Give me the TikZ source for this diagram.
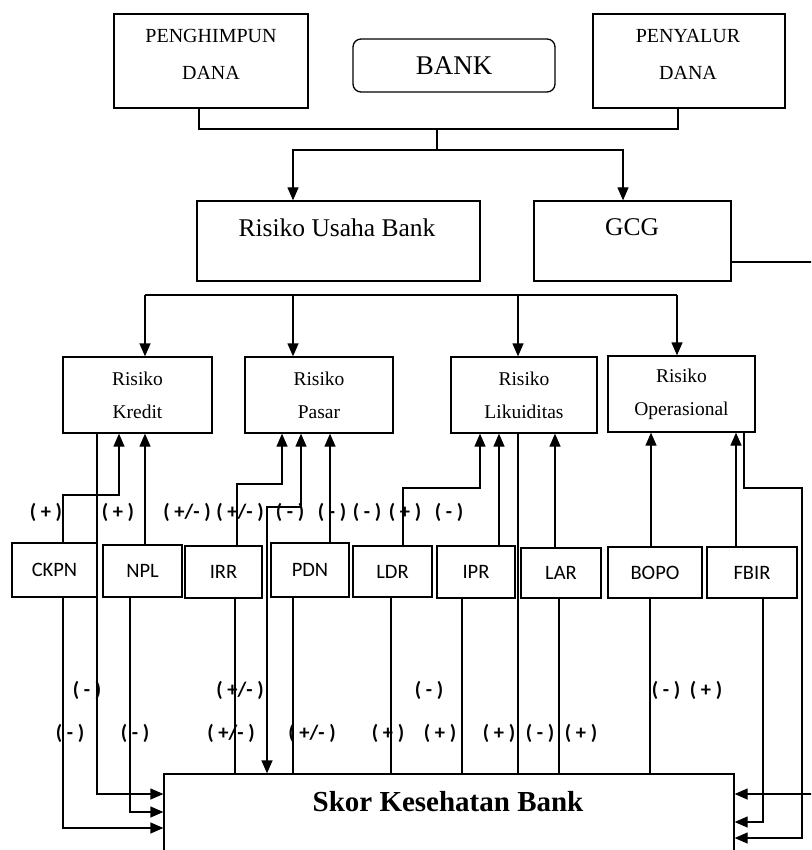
\documentclass[tikz,border=0pt]{standalone}
\usepackage{fontspec}
\setmainfont{Liberation Serif}
\newfontfamily\calib{Carlito}
\usetikzlibrary{arrows.meta}
\begin{document}
\begin{tikzpicture}[x=1pt,y=-1pt,
  box/.style={draw, line width=1.3pt, inner sep=0pt, anchor=center},
  conn/.style={line width=1.3pt},
  arr/.style={conn, -{Triangle[length=13pt,width=11pt]}},
  barr/.style={conn, {Triangle[length=13pt,width=11pt]}-{Triangle[length=13pt,width=11pt]}},
  toptxt/.style={inner sep=0pt, align=center, font=\fontsize{20}{37}\selectfont},
  bigtxt/.style={inner sep=0pt, font=\fontsize{25.5}{30}\selectfont},
  risk/.style={box, minimum width=148pt, minimum height=76pt, align=center, font=\fontsize{19.5}{33}\selectfont},
  ind/.style={box, minimum height=52pt, font=\calib\fontsize{20.5}{24}\selectfont},
  lbl/.style={inner sep=0pt, font=\calib\bfseries\fontsize{20.5}{22}\selectfont}
]
\clip (0,0) rectangle (811,850);

% top boxes
\node[box, minimum width=194pt, minimum height=94pt] (pen) at (211,61) {};
\node[toptxt] (pentxt) at (211,54.5) {PENGHIMPUN\\DANA};
\node[box, rounded corners=8pt, minimum width=202pt, minimum height=53pt, font=\fontsize{27}{30}\selectfont] (bank) at (454,65.5) {BANK};
\node[box, minimum width=192pt, minimum height=94pt] (pny) at (689,61) {};
\node[toptxt] (pnytxt) at (688,54.5) {PENYALUR\\DANA};

% second row
\node[box, minimum width=283pt, minimum height=80pt] (rub) at (338.5,241) {};
\node[bigtxt] (rubtxt) at (337,227.5) {Risiko Usaha Bank};
\node[box, minimum width=197pt, minimum height=80pt] (gcg) at (632.5,241) {};
\node[bigtxt] (gcgtxt) at (632,227.5) {GCG};

% risk boxes
\node[risk, minimum width=149pt] (rk) at (137.5,395) {Risiko\\Kredit};
\node[risk] (rp) at (319,395) {Risiko\\Pasar};
\node[risk, minimum width=146pt] (rl) at (524,395) {Risiko\\Likuiditas};
\node[risk, minimum width=147pt] (ro) at (681.5,394) {Risiko\\Operasional};

% indicator boxes
\node[ind, minimum width=85pt, minimum height=54pt] (ckpn) at (54.5,570) {CKPN};
\node[ind, minimum width=79pt] (npl) at (142.5,571) {NPL};
\node[ind, minimum width=77pt] (irr) at (223.5,572) {IRR};
\node[ind, minimum width=78pt, minimum height=54pt] (pdn) at (310,570) {PDN};
\node[ind, minimum width=79pt, minimum height=51pt] (ldr) at (392.5,571.5) {LDR};
\node[ind, minimum width=78pt] (ipr) at (476,572) {IPR};
\node[ind, minimum width=80pt, minimum height=50pt] (lar) at (561,573) {LAR};
\node[ind, minimum width=94pt, minimum height=51pt] (bopo) at (655,572.5) {BOPO};
\node[ind, minimum width=90pt, minimum height=51pt] (fbir) at (752,572.5) {FBIR};

% score box
\node[box, minimum width=570pt, minimum height=110pt] (skor) at (449,829) {};
\node[inner sep=0pt, font=\bfseries\fontsize{29}{32}\selectfont] (skortxt) at (448,802) {Skor Kesehatan Bank};

% top connectors
\coordinate (j1) at (437,129);
\coordinate (j2) at (437,150);
\draw[conn] (199,0 |- pen.south) |- (j1) -| (678,0 |- pny.south);
\draw[conn] (j1) -- (j2);
\draw[arr] (j2) -| (293,0 |- rub.north);
\draw[arr] (j2) -| (623,0 |- gcg.north);

% GCG to score (along right edge)
\draw[arr] (gcg.east |- 0,262) -- (813,262) -- (813,794) -- (skor.east |- 0,794);

% bar to risk boxes
\coordinate (b1) at (145,295);
\coordinate (b2) at (293,295);
\coordinate (b3) at (518,295);
\coordinate (b4) at (677,295);
\draw[conn] (b1) -- (b4);
\draw[arr] (b1) -- (145,0 |- rk.north);
\draw[arr] (b2) -- (293,0 |- rp.north);
\draw[arr] (b3) -- (518,0 |- rl.north);
\draw[arr] (b4) -- (677,0 |- ro.north);

% indicators up to risk boxes
\draw[arr] (63,0 |- ckpn.north) |- (119,495) -- (119,0 |- rk.south);
\draw[arr] (145,0 |- npl.north) -- (145,0 |- rk.south);
\draw[arr] (237,0 |- irr.north) |- (282,484) -- (282,0 |- rp.south);
\draw[barr] (267,0 |- skor.north) |- (301,507) -- (301,0 |- rp.south);
\draw[arr] (330,0 |- pdn.north) -- (330,0 |- rp.south);
\draw[arr] (403,0 |- ldr.north) |- (480,488) -- (480,0 |- rl.south);
\draw[arr] (499,0 |- ipr.north) -- (499,0 |- rl.south);
\draw[arr] (555,0 |- lar.north) -- (555,0 |- rl.south);
\draw[arr] (651,0 |- bopo.north) -- (651,0 |- ro.south);
\draw[arr] (736,0 |- fbir.north) -- (736,0 |- ro.south);

% down to score, left side
\draw[arr] (97,0 |- rk.south) |- (skor.west |- 0,794);
\draw[arr] (130,0 |- npl.south) |- (skor.west |- 0,812);
\draw[arr] (63,0 |- ckpn.south) |- (skor.west |- 0,828);

% down to score, top
\draw[conn] (235,0 |- irr.south) -- (235,0 |- skor.north);
\draw[conn] (293,0 |- pdn.south) -- (293,0 |- skor.north);
\draw[conn] (391,0 |- ldr.south) -- (391,0 |- skor.north);
\draw[conn] (462,0 |- ipr.south) -- (462,0 |- skor.north);
\draw[conn] (518,0 |- rl.south) -- (518,0 |- skor.north);
\draw[conn] (559,0 |- lar.south) -- (559,0 |- skor.north);
\draw[conn] (650,0 |- bopo.south) -- (650,0 |- skor.north);

% down to score, right side
\draw[arr] (763,0 |- fbir.south) |- (skor.east |- 0,822);
\draw[arr] (744,0 |- ro.south) |- (802,488) |- (skor.east |- 0,838);

% labels row 1
\node[lbl] (a1) at (46,512) {( + )};
\node[lbl] (a2) at (118,512) {( + )};
\node[lbl] (a3) at (187,512) {( +/- )};
\node[lbl] (a4) at (240,512) {( +/- )};
\node[lbl] (a5) at (290,512) {( - )};
\node[lbl] (a6) at (332,512) {( - )};
\node[lbl] (a7) at (367,512) {( - )};
\node[lbl] (a8) at (405,512) {( + )};
\node[lbl] (a9) at (449,512) {( - )};
% labels row 2
\node[lbl] (c1) at (87,690) {( - )};
\node[lbl] (c2) at (240,690) {( +/- )};
\node[lbl] (c3) at (429,690) {( - )};
\node[lbl] (c4) at (666,690) {( - )};
\node[lbl] (c5) at (706,690) {( + )};
% labels row 3
\node[lbl] (d1) at (70,733) {( - )};
\node[lbl] (d2) at (135,733) {( - )};
\node[lbl] (d3) at (231,733) {( +/- )};
\node[lbl] (d4) at (312,733) {( +/- )};
\node[lbl] (d5) at (388,733) {( + )};
\node[lbl] (d6) at (440,733) {( + )};
\node[lbl] (d7) at (499,733) {( + )};
\node[lbl] (d8) at (540,733) {( - )};
\node[lbl] (d9) at (581,733) {( + )};
\end{tikzpicture}
\end{document}
